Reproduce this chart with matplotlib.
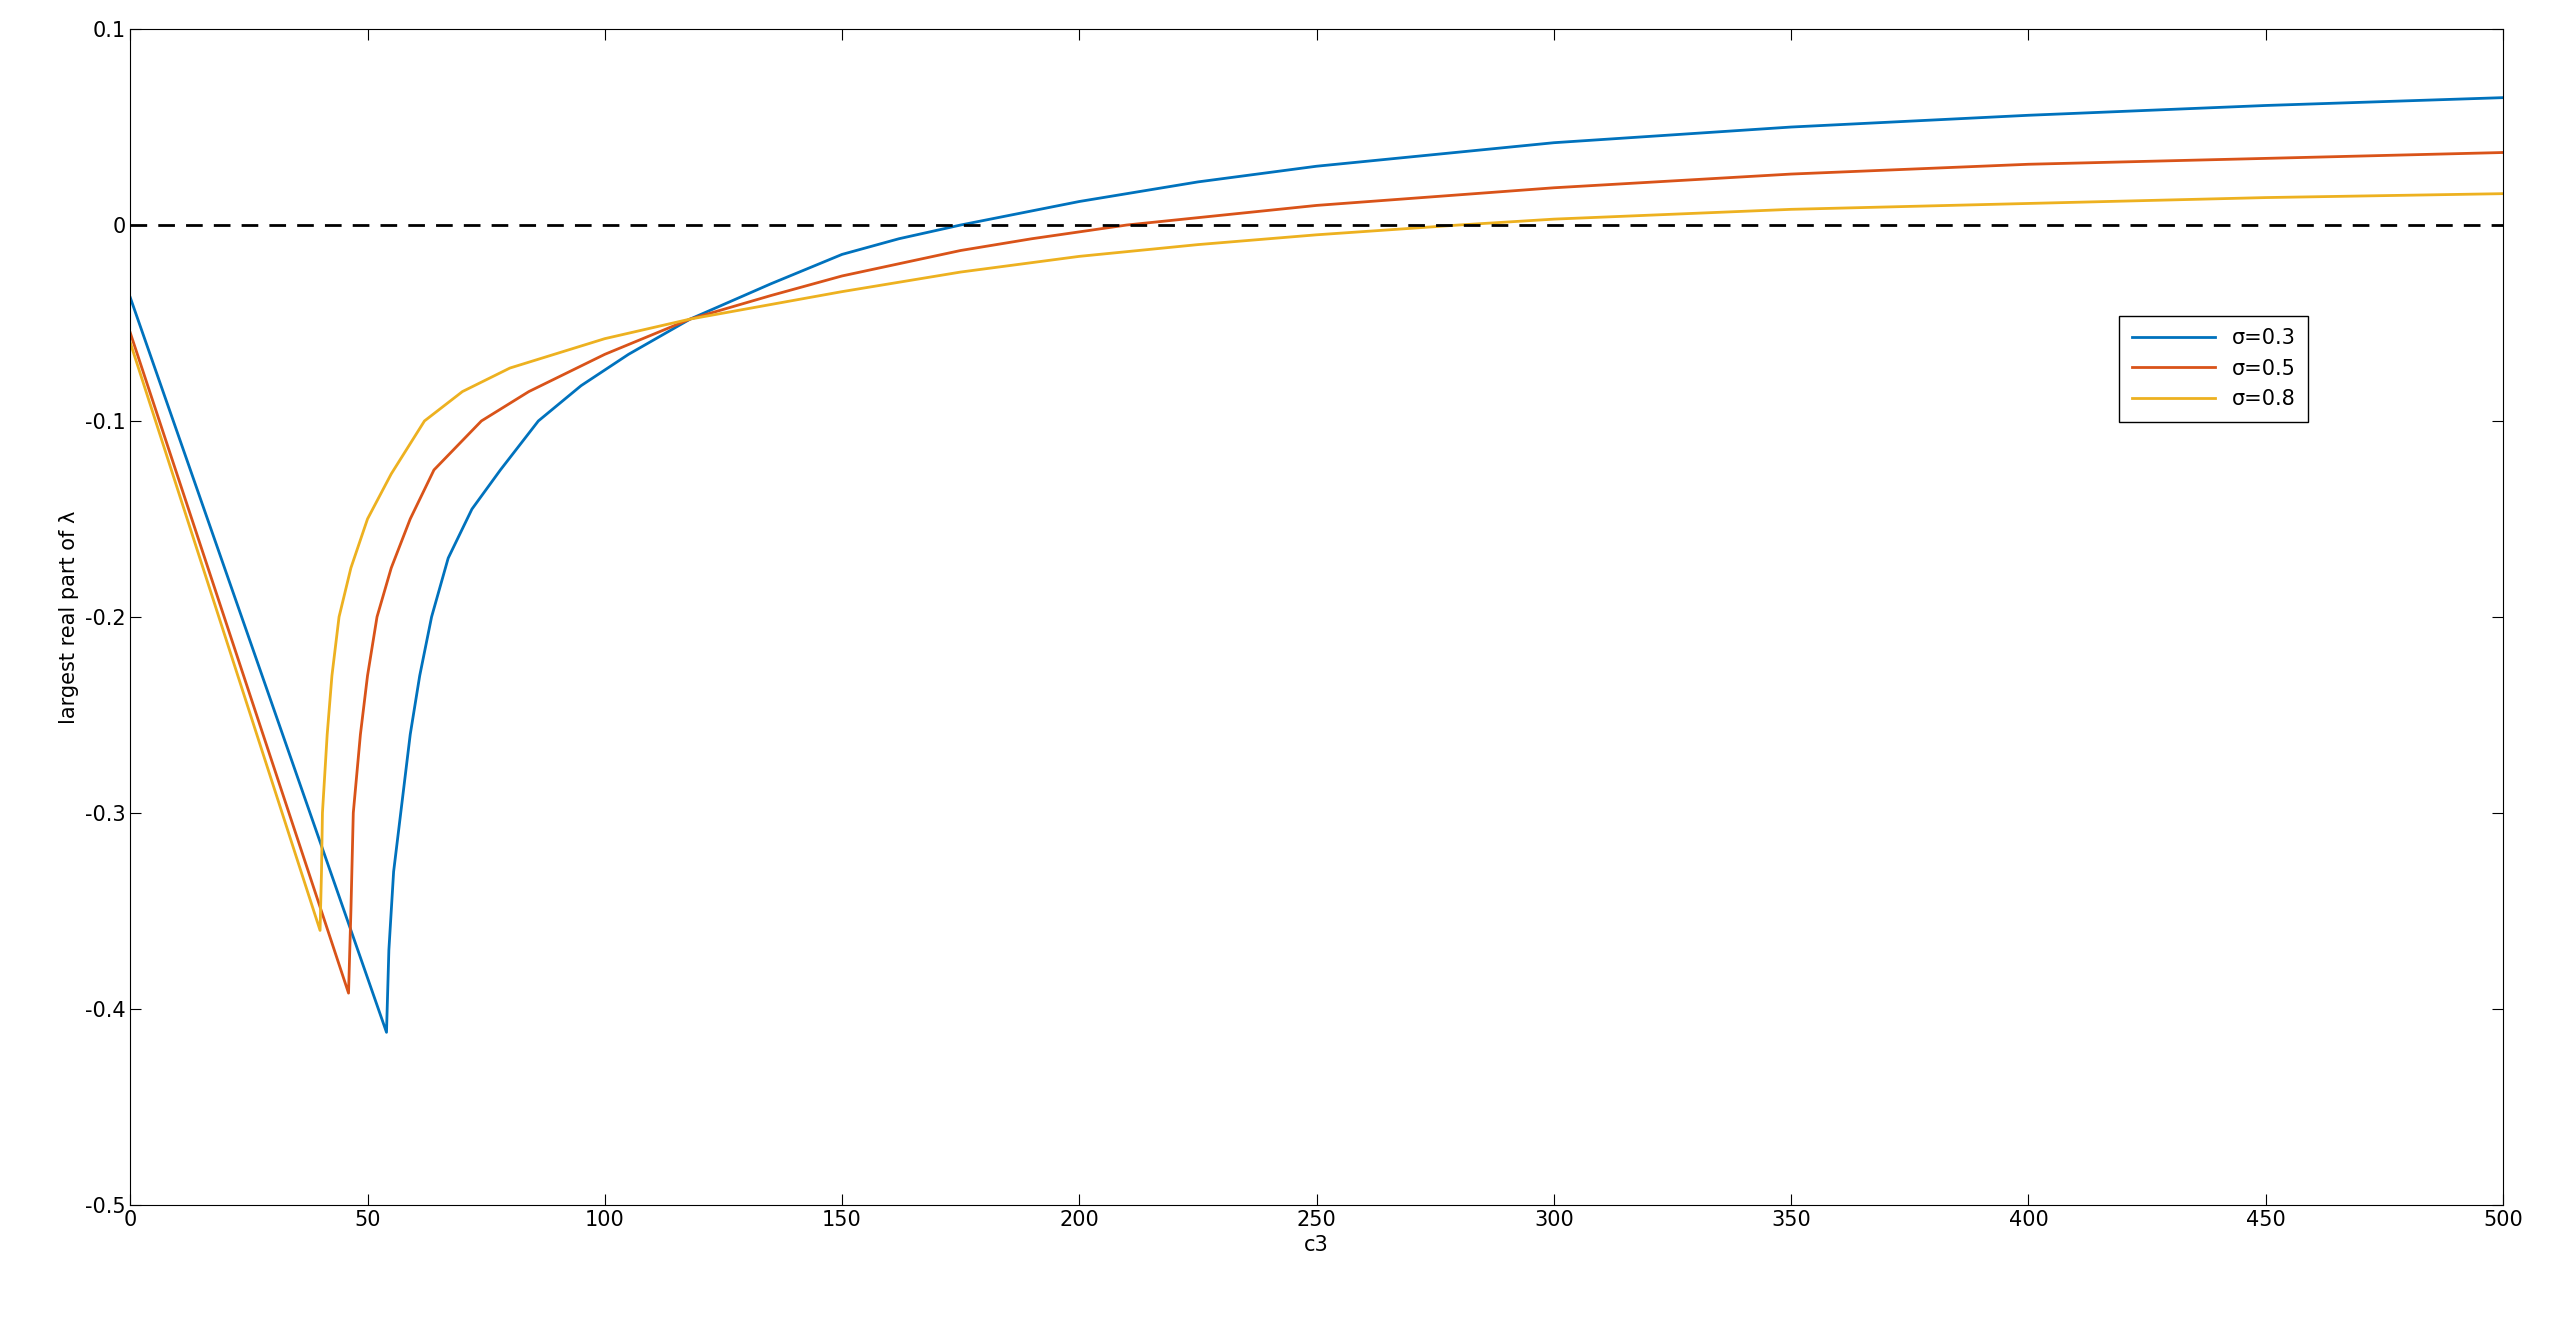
import matplotlib.pyplot as plt

# sigma = 0.3
c3_a = [0, 54, 54.5, 55.5, 57, 59, 61, 63.5, 67, 72, 78, 86, 95, 105, 118, 135, 150, 162, 175,
        200, 225, 250, 275, 300, 350, 400, 450, 500]
lam_a = [-0.037, -0.412, -0.37, -0.33, -0.3, -0.26, -0.23, -0.2, -0.17, -0.145, -0.125, -0.1,
         -0.082, -0.066, -0.048, -0.03, -0.015, -0.007, 0.0, 0.012, 0.022, 0.03, 0.036, 0.042,
         0.05, 0.056, 0.061, 0.065]
# sigma = 0.5
c3_b = [0, 46, 46.5, 47, 48.5, 50, 52, 55, 59, 64, 74, 84, 100, 118, 135, 150, 175, 190, 210,
        230, 250, 300, 350, 400, 450, 500]
lam_b = [-0.055, -0.392, -0.35, -0.3, -0.26, -0.23, -0.2, -0.175, -0.15, -0.125, -0.1, -0.085,
         -0.066, -0.048, -0.036, -0.026, -0.013, -0.007, 0.0, 0.005, 0.01, 0.019, 0.026, 0.031,
         0.034, 0.037]
# sigma = 0.8
c3_c = [0, 40, 40.3, 40.5, 41.5, 42.5, 44, 46.5, 50, 55, 62, 70, 80, 100, 118, 150, 175, 200,
        225, 250, 280, 300, 350, 400, 450, 500]
lam_c = [-0.06, -0.36, -0.33, -0.3, -0.26, -0.23, -0.2, -0.175, -0.15, -0.127, -0.1, -0.085,
         -0.073, -0.058, -0.048, -0.034, -0.024, -0.016, -0.01, -0.005, 0.0, 0.003, 0.008, 0.011,
         0.014, 0.016]

fig = plt.figure(figsize=(25.54, 13.21), dpi=100)
ax = fig.add_axes([0.051, 0.088, 0.929, 0.89])

ax.plot(c3_a, lam_a, color="#0072BD", lw=2, label="σ=0.3")
ax.plot(c3_b, lam_b, color="#D95319", lw=2, label="σ=0.5")
ax.plot(c3_c, lam_c, color="#EDB120", lw=2, label="σ=0.8")
ax.axhline(0, color="black", ls=(0, (6, 4)), lw=2)

ax.set_xlim(0, 500)
ax.set_ylim(-0.5, 0.1)
ax.set_xticks(range(0, 501, 50))
ax.set_yticks([-0.5, -0.4, -0.3, -0.2, -0.1, 0, 0.1])
ax.set_yticklabels(["-0.5", "-0.4", "-0.3", "-0.2", "-0.1", "0", "0.1"])
ax.tick_params(direction="in", top=True, right=True, labelsize=15, length=8)
ax.set_xlabel("c3", fontsize=15)
ax.set_ylabel("largest real part of λ", fontsize=15)

ax.legend(loc="upper left", bbox_to_anchor=(0.834, 0.765), fontsize=15, fancybox=False,
          edgecolor="black", framealpha=1, handlelength=4, borderpad=0.6, labelspacing=0.5)

plt.savefig("out.png")
